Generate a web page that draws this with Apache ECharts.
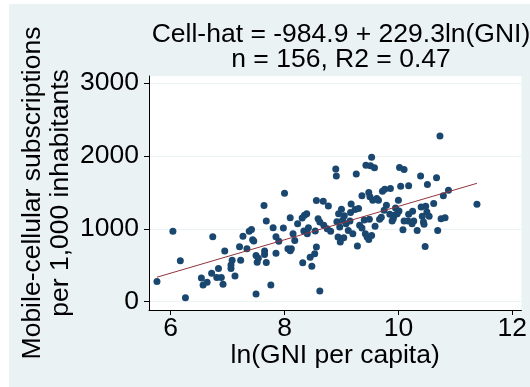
<!DOCTYPE html>
<html>
<head>
<meta charset="utf-8">
<script src="https://cdn.jsdelivr.net/npm/echarts@6/dist/echarts.min.js"></script>
<style>
html,body{margin:0;padding:0;background:#fff;}
#bg{position:absolute;left:9px;top:4px;width:521px;height:383px;background:#EAF2F3;}
#chart{position:absolute;left:0;top:0;width:530px;height:387px;}
</style>
</head>
<body>
<div id="bg"></div>
<div id="chart"></div>
<script>
// ln(GNI per capita)
const lnGNI = [
5.76,6.04,6.17,6.26,6.54,6.57,6.64,6.72,6.74,6.81,6.84,6.89,6.92,6.95,7.06,7.06,7.08,7.13,7.21,7.23,
7.27,7.34,7.38,7.42,7.44,7.46,7.50,7.50,7.52,7.54,7.64,7.65,7.65,7.68,7.68,7.76,7.80,7.85,7.85,7.98,
8.00,8.06,8.10,8.10,8.12,8.15,8.18,8.23,8.31,8.32,8.34,8.35,8.39,8.40,8.42,8.45,8.48,8.53,8.54,8.56,
8.56,8.59,8.62,8.62,8.68,8.69,8.77,8.81,8.90,8.91,8.92,8.94,8.95,8.97,8.98,9.00,9.02,9.04,9.08,9.12,
9.15,9.16,9.17,9.20,9.24,9.26,9.28,9.30,9.32,9.36,9.36,9.42,9.43,9.45,9.48,9.48,9.49,9.50,9.51,9.53,
9.53,9.55,9.58,9.59,9.62,9.65,9.67,9.70,9.72,9.75,9.76,9.79,9.86,9.89,9.91,9.93,9.95,9.98,10.00,10.01,
10.02,10.04,10.08,10.10,10.10,10.17,10.18,10.18,10.24,10.27,10.33,10.39,10.40,10.42,10.44,10.45,10.47,10.48,10.50,10.51,
10.54,10.62,10.67,10.69,10.73,10.75,10.79,10.82,10.88,11.38,
9.05,9.40,9.85,10.25,8.75,7.90
];
// Mobile-cellular subscriptions per 1,000 inhabitants
const cellSubs = [
276,965,560,55,326,230,266,390,891,331,455,331,239,694,505,455,570,354,753,570,
896,726,965,992,850,831,634,106,542,597,1318,648,694,1107,537,230,1015,891,666,1011,
1488,726,698,1153,726,933,841,1070,1148,533,969,1185,1208,933,1015,611,487,657,969,749,
1387,1139,1093,147,1378,1047,1314,965,1819,1723,1098,887,1208,1024,818,1268,1116,877,1070,978,
1107,1222,1341,933,1263,1750,763,1277,1047,1452,1011,933,1870,887,854,1497,1130,1438,1865,1980,
909,1392,1837,1034,1415,1392,1130,1158,1516,1254,1543,1323,1553,1107,1139,1185,1286,1208,1392,1245,
1842,1585,988,1814,1107,1107,1589,1199,1070,1107,978,1723,1300,1171,1093,1061,758,1309,1231,1608,
1171,1346,1700,978,2274,1139,1452,1153,1530,1337,
1180,1120,1200,1240,1000,830
];
// fitted line end points
const fitX = [5.76, 11.38];
const fitY = [336, 1624];
const xTicks = [6, 8, 10, 12];
const yTicks = [0, 1000, 2000, 3000];
const titleLines = ['Cell-hat = -984.9 + 229.3ln(GNI)', 'n = 156, R2 = 0.47'];
const xName = 'ln(GNI per capita)';
const yNameLines = ['Mobile-cellular subscriptions', 'per 1,000 inhabitants'];

const FONT = '"Liberation Sans", Arial, Helvetica, sans-serif';
const chart = echarts.init(document.getElementById('chart'), null, {renderer: 'canvas'});
chart.setOption({
  backgroundColor: 'transparent',
  animation: false,
  title: {
    text: titleLines.join('\n'),
    left: 336, top: 17, textAlign: 'center',
    textStyle: {fontFamily: FONT, fontSize: 26.5, fontWeight: 'normal', color: '#000', lineHeight: 25}
  },
  grid: {left: 149, right: 6, top: 76, bottom: 77, show: true, backgroundColor: '#fff', borderWidth: 0},
  xAxis: {
    type: 'value', min: 5.62, max: 12.16,
    name: xName, nameLocation: 'middle', nameGap: 32, nameMoveOverlap: false,
    nameTextStyle: {fontFamily: FONT, fontSize: 26.5, color: '#000'},
    axisLine: {onZero: false, lineStyle: {color: '#000', width: 1}},
    axisTick: {show: true, length: 5, customValues: xTicks, lineStyle: {color: '#000'}},
    axisLabel: {customValues: xTicks, margin: 5, fontFamily: FONT, fontSize: 26.5, color: '#000',
      formatter: v => String(v)},
    splitLine: {show: false}
  },
  yAxis: {
    type: 'value', min: -114, max: 3096,
    name: yNameLines.join('\n'), nameLocation: 'middle', nameGap: 74, nameRotate: 90, nameMoveOverlap: false,
    nameTextStyle: {fontFamily: FONT, fontSize: 26.5, color: '#000', lineHeight: 28},
    axisLine: {show: true, onZero: false, lineStyle: {color: '#000', width: 1}},
    axisTick: {show: true, length: 5, customValues: yTicks, lineStyle: {color: '#000'}},
    axisLabel: {customValues: yTicks, margin: 10, fontFamily: FONT, fontSize: 26.5, color: '#000',
      formatter: v => String(v)},
    splitLine: {show: true, lineStyle: {color: '#EAF2F3', width: 1}}
  },
  series: [
    {
      type: 'scatter', symbol: 'circle', symbolSize: 7,
      itemStyle: {color: '#1A476F', opacity: 1},
      data: lnGNI.map((x, i) => [x, cellSubs[i]]),
      z: 3
    },
    {
      type: 'line', symbol: 'none',
      lineStyle: {color: '#90353B', width: 1},
      data: fitX.map((x, i) => [x, fitY[i]]),
      z: 4
    }
  ]
});
</script>
</body>
</html>
